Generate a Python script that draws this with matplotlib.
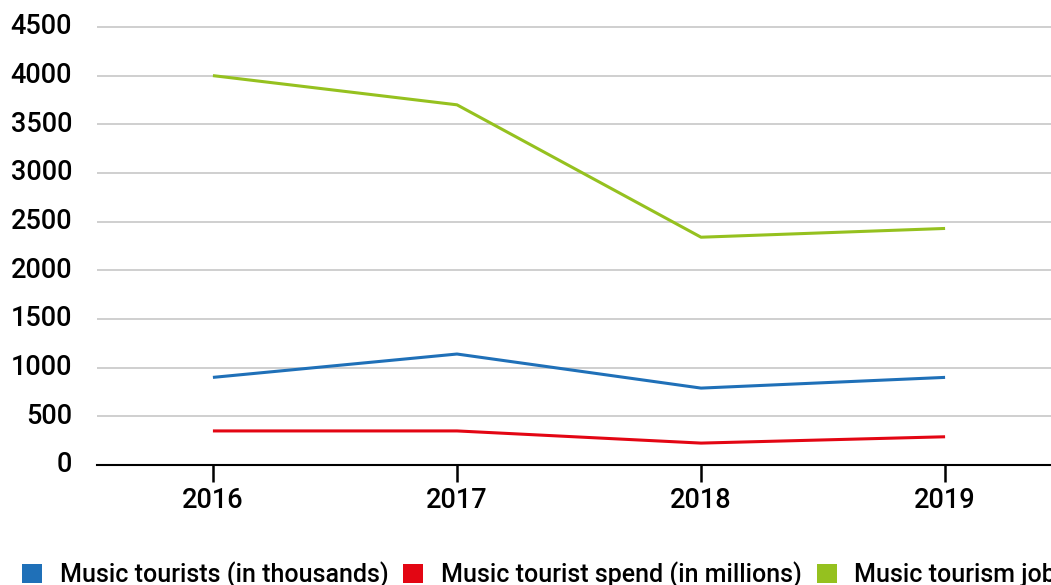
import matplotlib
matplotlib.use("Agg")
import matplotlib.pyplot as plt
from matplotlib.patches import Patch
from matplotlib.transforms import ScaledTranslation

years = ["2016", "2017", "2018", "2019"]
tourists = [900, 1140, 790, 900]        # in thousands
spend = [350, 350, 225, 290]            # in millions
jobs = [4000, 3700, 2340, 2430]
series_names = [
    "Music tourists (in thousands)",
    "Music tourist spend (in millions)",
    "Music tourism jobs",
]
colors = ["#1f70b8", "#e30613", "#95c11f"]
y_ticks = [0, 500, 1000, 1500, 2000, 2500, 3000, 3500, 4000, 4500]

FONT = ["Roboto", "Liberation Sans", "DejaVu Sans"]

W, H = 1051, 585
fig = plt.figure(figsize=(W / 100, H / 100), dpi=100)
ax = fig.add_axes([97 / W, 120 / H, 1 - 97 / W, (465 - 25) / H])

x = list(range(len(years)))
for vals, c in zip([tourists, spend, jobs], colors):
    ax.plot(x, vals, color=c, lw=2.2, solid_capstyle="butt", zorder=3)

ax.set_xlim(-0.475, 3.434)
ax.set_ylim(0, 4520)
ax.set_yticks(y_ticks)
ax.set_yticklabels([str(v) for v in y_ticks])
ax.set_xticks(x)
ax.set_xticklabels(years)

ax.grid(axis="y", color="#cfcfcf", lw=1.4)
ax.set_axisbelow(True)
for s in ["top", "right", "left"]:
    ax.spines[s].set_visible(False)
ax.spines["bottom"].set_color("black")
ax.spines["bottom"].set_linewidth(1.5)

ax.tick_params(axis="y", length=0, pad=18, labelsize=19.5)
ax.tick_params(axis="x", length=12, width=1.8, color="black", direction="out",
               pad=4, labelsize=19.5)
lift = ScaledTranslation(0, 3 / 100, fig.dpi_scale_trans)
for lbl in ax.get_yticklabels():
    lbl.set_fontfamily(FONT)
    lbl.set_fontweight("medium")
    lbl.set_verticalalignment("center_baseline")
    lbl.set_transform(lbl.get_transform() + lift)
for lbl in ax.get_xticklabels():
    lbl.set_fontfamily(FONT)
    lbl.set_fontweight("medium")

handles = [Patch(facecolor=c, edgecolor="none") for c in colors]
fig.legend(handles, series_names, loc="lower left",
           bbox_to_anchor=(22 / W, -3 / H), ncol=3, frameon=False,
           handlelength=0.8, handleheight=0.8, handletextpad=0.7,
           columnspacing=0.6, borderaxespad=0, borderpad=0,
           prop={"family": FONT, "size": 18, "weight": "medium"})

fig.savefig("out.png", dpi=100)
